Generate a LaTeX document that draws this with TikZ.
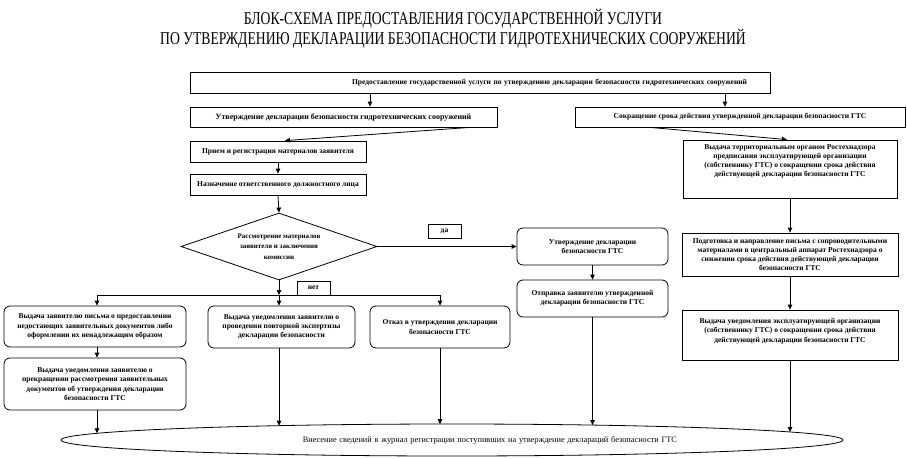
\documentclass[tikz,border=0pt]{standalone}
\usepackage{fontspec}
\setmainfont{Liberation Serif}
\newfontfamily\titlefont[FakeStretch=0.76]{Liberation Serif}
\usetikzlibrary{shapes.geometric,arrows.meta}
\begin{document}
\begin{tikzpicture}[x=1pt,y=-1pt,
  ln/.style={line width=0.8pt},
  box/.style={draw, line width=0.8pt, rectangle, inner sep=0pt, align=center,
    font=\fontsize{7.5}{9.2}\selectfont\bfseries},
  rbox/.style={box, rounded corners=6pt},
  arr/.style={line width=0.8pt, -{Triangle[length=5pt,width=4.5pt]}},
  ttl/.style={font=\titlefont\fontsize{18}{18}\selectfont, inner sep=0pt}]
\fill[white] (0,0) rectangle (907,458);
\useasboundingbox (0,0) rectangle (907,458);

\node[ttl] (t1) at (453,19) {БЛОК-СХЕМА ПРЕДОСТАВЛЕНИЯ ГОСУДАРСТВЕННОЙ УСЛУГИ};
\node[ttl] (t2) at (453,38.5) {ПО УТВЕРЖДЕНИЮ ДЕКЛАРАЦИИ БЕЗОПАСНОСТИ ГИДРОТЕХНИЧЕСКИХ СООРУЖЕНИЙ};

\node[box, minimum width=580pt, minimum height=21pt, text width=534pt, align=right] (top) at (480,82.5)
  {Предоставление государственной услуги по утверждению декларации безопасности гидротехнических сооружений};
\node[box, minimum width=307pt, minimum height=20pt, font=\fontsize{8}{9.6}\selectfont\bfseries] (L1) at (343.5,117)
  {Утверждение декларации безопасности гидротехнических сооружений};
\node[box, minimum width=330pt, minimum height=20pt] (R1) at (740,117)
  {Сокращение срока действия утвержденной декларации безопасности ГТС};
\node[box, minimum width=176pt, minimum height=21pt] (Pr) at (278,151.5)
  {Прием и регистрация материалов заявителя};
\node[box, minimum width=176pt, minimum height=21pt] (Nz) at (278,184.5)
  {Назначение ответственного должностного лица};
\node[draw, diamond, line width=0.8pt, minimum width=196pt, minimum height=67pt, inner sep=0pt,
  aspect=2.9, align=center, font=\fontsize{7}{10.5}\selectfont\bfseries] (dia) at (279,246.5)
  {Рассмотрение материалов\\заявителя и заключения\\комиссии};
\node[box, minimum width=33pt, minimum height=14pt] (da) at (444.5,231.5) {да};
\node[box, minimum width=33pt, minimum height=14pt] (net) at (313.5,288) {нет};
\node[rbox, minimum width=151pt, minimum height=37pt] (Ut) at (592.5,246.5)
  {Утверждение декларации\\безопасности ГТС};
\node[rbox, minimum width=151pt, minimum height=37pt] (Ot) at (592.5,298.5)
  {Отправка заявителю утвержденной\\декларации безопасности ГТС};
\node[rbox, minimum width=182pt, minimum height=41pt] (A) at (95,326.5)
  {Выдача заявителю письма о предоставлении\\недостающих заявительных документов либо\\оформлении их ненадлежащим образом};
\node[rbox, minimum width=182pt, minimum height=52pt] (B) at (95,384)
  {Выдача уведомления заявителю о\\прекращении рассмотрения заявительных\\документов об утверждения декларации\\безопасности ГТС};
\node[rbox, minimum width=147pt, minimum height=42pt] (C) at (281.5,327)
  {Выдача уведомления заявителю о\\проведении повторной экспертизы\\декларации безопасности};
\node[rbox, minimum width=140pt, minimum height=42pt] (D) at (440,327)
  {Отказ в утверждении декларации\\безопасности ГТС};
\node[box, minimum width=214pt, minimum height=58pt] (R2) at (790,169)
  {Выдача территориальным органом Ростехнадзора\\предписания эксплуатирующей организации\\(собственнику ГТС) о сокращении срока действия\\действующей декларации безопасности ГТС\\[8pt]\mbox{}};
\node[box, minimum width=216pt, minimum height=43pt] (R3) at (790,254.5)
  {Подготовка и направление письма с сопроводительными\\материалами в центральный аппарат Ростехнадзора о\\снижении срока действия действующей декларации\\безопасности ГТС};
\node[box, minimum width=216pt, minimum height=50pt] (R4) at (790,335)
  {Выдача уведомления эксплуатирующей организации\\(собственнику ГТС) о сокращении срока действия\\действующей декларации безопасности ГТС\\[0pt]\mbox{}};
\node[draw, ellipse, line width=0.8pt, minimum width=782pt, minimum height=32pt, inner sep=0pt,
  text width=450pt, align=right,
  font=\fontsize{8.3}{9.6}\selectfont] (E) at (452,440)
  {Внесение сведений в журнал регистрации поступивших на утверждение деклараций безопасности ГТС};

% connectors
\draw[arr] (370,0 |- top.south) -- (370,0 |- L1.north);
\draw[arr] (725,0 |- top.south) -- (725,0 |- R1.north);
\draw[arr] (470,0 |- L1.south) -- (285,0 |- Pr.north);
\draw[arr] (650,0 |- R1.south) -- (787,0 |- R2.north);
\draw[arr] (Pr.south) -- (Nz.north);
\draw[arr] (Nz.south) -- (dia.north);
\draw[arr] (dia.east) -- (dia.east -| Ut.west);
\draw[arr] (Ut.south) -- (Ot.north);

\coordinate (bL) at (97,295);
\coordinate (bM) at (279,295);
\coordinate (bR) at (440,295);
\draw[ln] (bL) -- (bR);
\draw[arr] (dia.south) -- (bM);
\draw[arr] (bL) -- (bL |- A.north);
\draw[arr] (bM) -- (bM |- C.north);
\draw[arr] (bR) -- (bR |- D.north);
\draw[arr] (bL |- A.south) -- (bL |- B.north);

\draw[arr] (R2.south) -- (R3.north);
\draw[arr] (R3.south) -- (R4.north);

\coordinate (e1) at (97,433.3);
\coordinate (e2) at (279,425.7);
\coordinate (e3) at (440,424.2);
\coordinate (e4) at (592.5,425.1);
\coordinate (e5) at (790,432.0);
\draw[arr] (bL |- B.south) -- (e1);
\draw[arr] (bM |- C.south) -- (e2);
\draw[arr] (bR |- D.south) -- (e3);
\draw[arr] (Ot.south) -- (e4);
\draw[arr] (R4.south) -- (e5);
\end{tikzpicture}
\end{document}
